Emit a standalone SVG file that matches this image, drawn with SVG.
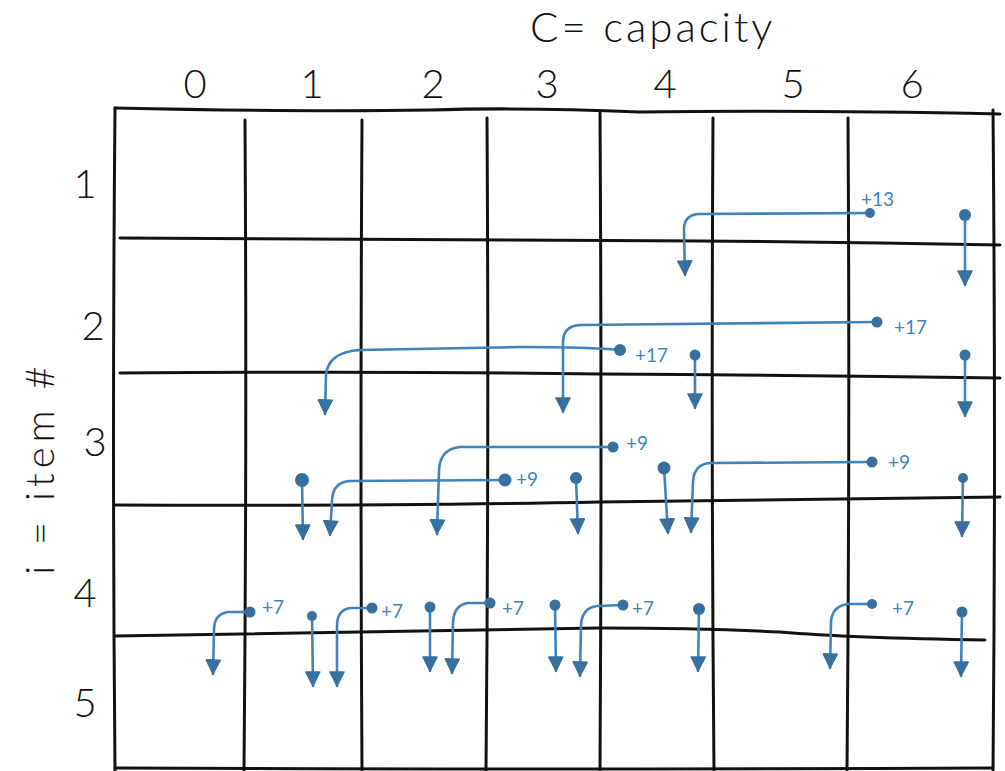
<svg xmlns="http://www.w3.org/2000/svg" width="1005" height="771" viewBox="0 0 1005 771">
<defs>
<style>
.grid{fill:none;stroke:#111;stroke-width:3;stroke-linecap:round}
.lbl{font-family:Lato,"Liberation Sans",Arial,sans-serif;fill:#111;font-weight:300}
.ax{font-size:40px}
.conn{fill:none;stroke:#3f83bb;stroke-width:2.6;stroke-linecap:round;marker-end:url(#ah)}
.dot{fill:#37709f}
.val{font-family:Lato,"Liberation Sans",Arial,sans-serif;font-size:19px;fill:#3f83bb}
</style>
<marker id="ah" viewBox="0 0 16 16" refX="15" refY="8" markerWidth="16" markerHeight="16" markerUnits="userSpaceOnUse" orient="auto">
<path d="M1,1 L15,8 L1,15 Z" fill="#37709f" stroke="#37709f" stroke-width="1.5" stroke-linejoin="round"/>
</marker>
</defs>
<rect width="1005" height="771" fill="#fff"/>

<g id="labels">
<text class="lbl" x="530" y="42" font-size="42" letter-spacing="3">C= capacity</text>
<text class="lbl ax" x="195" y="98" text-anchor="middle">0</text>
<text class="lbl ax" x="312" y="98" text-anchor="middle">1</text>
<text class="lbl ax" x="433" y="98" text-anchor="middle">2</text>
<text class="lbl ax" x="547" y="98" text-anchor="middle">3</text>
<text class="lbl ax" x="665" y="98" text-anchor="middle">4</text>
<text class="lbl ax" x="793" y="98" text-anchor="middle">5</text>
<text class="lbl ax" x="912" y="98" text-anchor="middle">6</text>
<text class="lbl ax" x="85" y="198" text-anchor="middle">1</text>
<text class="lbl ax" x="93" y="340" text-anchor="middle">2</text>
<text class="lbl ax" x="95" y="456" text-anchor="middle">3</text>
<text class="lbl ax" x="85" y="607" text-anchor="middle">4</text>
<text class="lbl ax" x="85" y="717" text-anchor="middle">5</text>
<text class="lbl" font-size="40" letter-spacing="5" transform="translate(54,468) rotate(-90)" text-anchor="middle">i = item #</text>
</g>

<g id="grid">
<path class="grid" d="M115,108 Q300,112 430,110 Q520,107 640,112 Q800,110 1000,114"/>
<path class="grid" d="M115,108 Q112,440 115,770"/>
<path class="grid" d="M245,120 Q247,450 244,770"/>
<path class="grid" d="M362,120 Q360,450 362,770"/>
<path class="grid" d="M487,118 Q489,450 486,770"/>
<path class="grid" d="M600,112 Q602,450 600,770"/>
<path class="grid" d="M713,118 Q711,450 714,770"/>
<path class="grid" d="M848,118 Q850,450 847,770"/>
<path class="grid" d="M993,110 Q996,450 993,770"/>
<path class="grid" d="M120,238 Q500,240 700,241 Q850,242 1000,245"/>
<path class="grid" d="M120,373 Q400,371 600,374 Q800,375 1000,378"/>
<path class="grid" d="M115,505 Q400,506 600,502 Q800,500 1000,497"/>
<path class="grid" d="M115,636 Q300,634 600,628 Q700,628 780,632 Q850,638 985,640"/>
<path class="grid" d="M115,768 Q500,770 993,768"/>
</g>

<g id="connectors">
<path class="conn" d="M870,213 L700,214 Q684,214 684,230 L685,275"/>
<path class="conn" d="M965,215 L965,285"/>
<path class="conn" d="M877,322 L580,325 Q563,326 563,342 L563,412"/>
<path class="conn" d="M620,350 Q590,347 520,347 L360,350 Q328,352 326,375 L325,414"/>
<path class="conn" d="M695,355 L695,408"/>
<path class="conn" d="M965,355 L965,416"/>
<path class="conn" d="M613,447 L460,447 Q440,449 439,470 L437,534"/>
<path class="conn" d="M505,480 L350,481 Q333,482 332,500 L330,535"/>
<path class="conn" d="M302,480 L303,539"/>
<path class="conn" d="M576,478 L578,533"/>
<path class="conn" d="M664,468 L668,533"/>
<path class="conn" d="M872,462 L710,463 Q694,464 693,482 L691,532"/>
<path class="conn" d="M963,478 L962,536"/>
<path class="conn" d="M250,612 L228,612 Q214,614 214,630 L213,674"/>
<path class="conn" d="M312,616 L313,686"/>
<path class="conn" d="M372,608 L350,608 Q337,610 337,626 L337,686"/>
<path class="conn" d="M430,607 L430,671"/>
<path class="conn" d="M490,603 L468,603 Q454,605 453,622 L452,673"/>
<path class="conn" d="M555,605 L556,671"/>
<path class="conn" d="M623,605 L597,606 Q582,608 581,625 L580,676"/>
<path class="conn" d="M699,609 L698,671"/>
<path class="conn" d="M872,604 L848,604 Q832,606 831,622 L830,668"/>
<path class="conn" d="M962,612 L961,676"/>
</g>

<g id="dots">
<circle class="dot" cx="870" cy="213" r="5"/>
<circle class="dot" cx="965" cy="215" r="6"/>
<circle class="dot" cx="877" cy="322" r="5.5"/>
<circle class="dot" cx="620" cy="350" r="6"/>
<circle class="dot" cx="695" cy="355" r="5.5"/>
<circle class="dot" cx="965" cy="355" r="5.5"/>
<circle class="dot" cx="613" cy="447" r="5.5"/>
<circle class="dot" cx="505" cy="480" r="6.5"/>
<circle class="dot" cx="302" cy="480" r="7"/>
<circle class="dot" cx="576" cy="478" r="6"/>
<circle class="dot" cx="664" cy="468" r="6.5"/>
<circle class="dot" cx="872" cy="462" r="5.5"/>
<circle class="dot" cx="963" cy="478" r="5"/>
<circle class="dot" cx="250" cy="612" r="5.5"/>
<circle class="dot" cx="312" cy="616" r="5"/>
<circle class="dot" cx="372" cy="608" r="5.5"/>
<circle class="dot" cx="430" cy="607" r="5.5"/>
<circle class="dot" cx="490" cy="603" r="5.5"/>
<circle class="dot" cx="555" cy="605" r="5.5"/>
<circle class="dot" cx="623" cy="605" r="5.5"/>
<circle class="dot" cx="699" cy="609" r="6"/>
<circle class="dot" cx="872" cy="604" r="5"/>
<circle class="dot" cx="962" cy="612" r="5.5"/>
</g>

<g id="values">
<text class="val" x="861" y="206">+13</text>
<text class="val" x="894" y="334">+17</text>
<text class="val" x="635" y="362">+17</text>
<text class="val" x="626" y="450">+9</text>
<text class="val" x="516" y="486">+9</text>
<text class="val" x="888" y="469">+9</text>
<text class="val" x="262" y="614">+7</text>
<text class="val" x="381" y="618">+7</text>
<text class="val" x="502" y="615">+7</text>
<text class="val" x="632" y="615">+7</text>
<text class="val" x="892" y="615">+7</text>
</g>
</svg>
